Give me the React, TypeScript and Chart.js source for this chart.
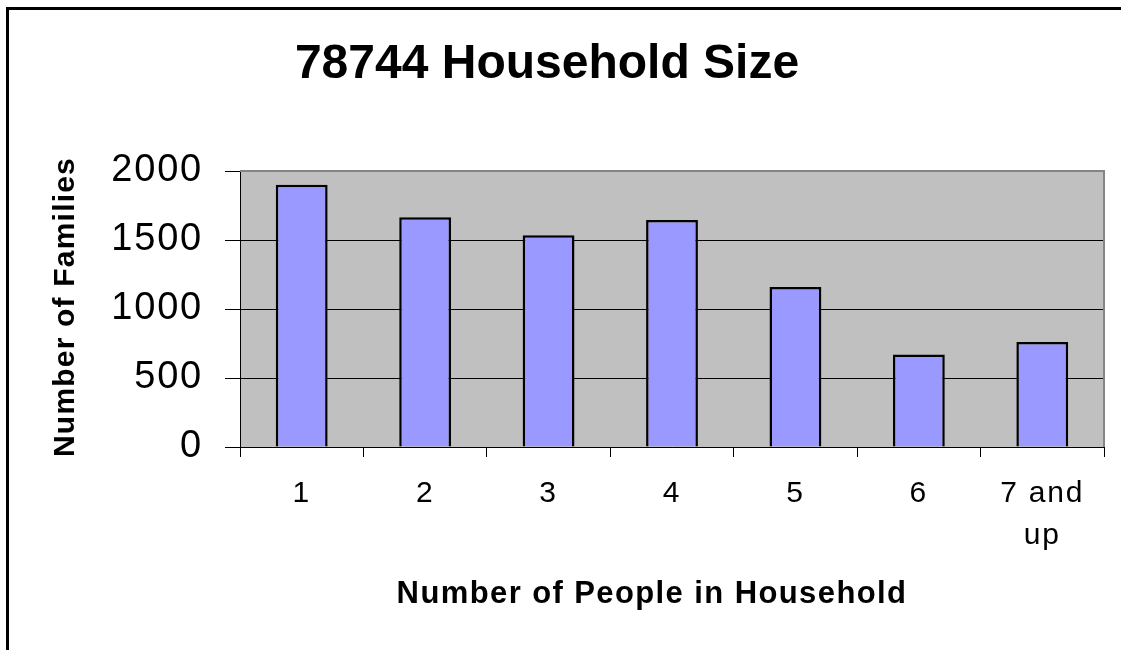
import React, { useEffect, useRef } from "react";
import { Chart, registerables } from "chart.js";

Chart.register(...registerables);

const categories: (string | string[])[] = ["1", "2", "3", "4", "5", "6", ["7 and", "up"]];
const families: number[] = [1900, 1665, 1535, 1645, 1160, 670, 760];
const yTicks: number[] = [0, 500, 1000, 1500, 2000];
const chartTitle = "78744 Household Size";
const xTitle = "Number of People in Household";
const yTitle = "Number of Families";

const FONT = "Arial, 'Liberation Sans', Helvetica, sans-serif";

const decorPlugin = {
  id: "decor",
  beforeDraw(chart: any) {
    const ctx = chart.ctx;
    (ctx as any).letterSpacing = "1.8px";
    const a = chart.chartArea;
    ctx.save();
    ctx.fillStyle = "#ffffff";
    ctx.fillRect(0, 0, chart.width, chart.height);
    ctx.fillStyle = "#C0C0C0";
    ctx.fillRect(a.left, a.top, a.right - a.left, a.bottom - a.top);
    ctx.restore();
  },
  beforeDatasetsDraw(chart: any) {
    const ctx = chart.ctx;
    const a = chart.chartArea;
    ctx.save();
    ctx.strokeStyle = "#858585";
    ctx.lineWidth = 2;
    ctx.beginPath();
    ctx.moveTo(a.left, a.top);
    ctx.lineTo(a.right, a.top);
    ctx.lineTo(a.right, a.bottom);
    ctx.stroke();
    ctx.restore();
  },
  afterDraw(chart: any) {
    const ctx = chart.ctx;
    ctx.save();
    // outer frame
    ctx.strokeStyle = "#000";
    ctx.lineWidth = 3;
    ctx.beginPath();
    ctx.moveTo(7.5, chart.height + 5);
    ctx.lineTo(7.5, 8.5);
    ctx.lineTo(chart.width + 5, 8.5);
    ctx.stroke();

    ctx.fillStyle = "#000";
    ctx.textAlign = "center";
    ctx.textBaseline = "alphabetic";
    // main title
    (ctx as any).letterSpacing = "0px";
    ctx.font = `bold 48px ${FONT}`;
    ctx.fillText(chartTitle, 547, 78);
    // x title
    (ctx as any).letterSpacing = "1.4px";
    ctx.font = `bold 31px ${FONT}`;
    ctx.fillText(xTitle, 652, 603);
    // y title
    (ctx as any).letterSpacing = "1.2px";
    ctx.font = `bold 30px ${FONT}`;
    ctx.translate(74, 307);
    ctx.rotate(-Math.PI / 2);
    ctx.fillText(yTitle, 0, 0);
    ctx.restore();
  },
};

export default function App() {
  const ref = useRef<HTMLCanvasElement | null>(null);
  useEffect(() => {
    if (!ref.current) return;
    const chart = new Chart(ref.current, {
      type: "bar",
      data: {
        labels: categories as any,
        datasets: [
          {
            data: families,
            backgroundColor: "#9999FF",
            borderColor: "#000000",
            borderWidth: 2.5,
            barPercentage: 0.42,
            categoryPercentage: 1,
          },
        ],
      },
      options: {
        animation: false,
        responsive: false,
        layout: { padding: { left: 0, top: 171, right: 17, bottom: 0 } },
        plugins: {
          legend: { display: false },
          title: { display: false },
          tooltip: { enabled: false },
        },
        scales: {
          x: {
            offset: true,
            afterFit: (s: any) => {
              s.height = 650 - 447;
            },
            grid: {
              offset: true,
              drawOnChartArea: false,
              drawTicks: true,
              tickLength: 10,
              color: "#000",
              lineWidth: 1,
            },
            border: { display: true, color: "#000", width: 1 },
            ticks: {
              color: "#000",
              font: { family: FONT, size: 30, lineHeight: 1.42 },
              padding: 15,
              maxRotation: 0,
              autoSkip: false,
            },
          },
          y: {
            min: 0,
            max: 2000,
            afterFit: (s: any) => {
              s.width = 240;
            },
            afterBuildTicks: (s: any) => {
              s.ticks = yTicks.map((v) => ({ value: v }));
            },
            grid: {
              drawOnChartArea: true,
              drawTicks: true,
              tickLength: 15,
              color: "#000",
              lineWidth: 1,
            },
            border: { display: true, color: "#000", width: 1 },
            ticks: {
              color: "#000",
              font: { family: FONT, size: 38 },
              padding: 22,
              callback: (v: any) => String(v),
            },
          },
        },
      },
      plugins: [decorPlugin],
    });
    return () => chart.destroy();
  }, []);
  return (
    <div style={{ position: "absolute", left: 0, top: 0, width: 1121, height: 650 }}>
      <canvas ref={ref} width={1121} height={650} />
    </div>
  );
}
